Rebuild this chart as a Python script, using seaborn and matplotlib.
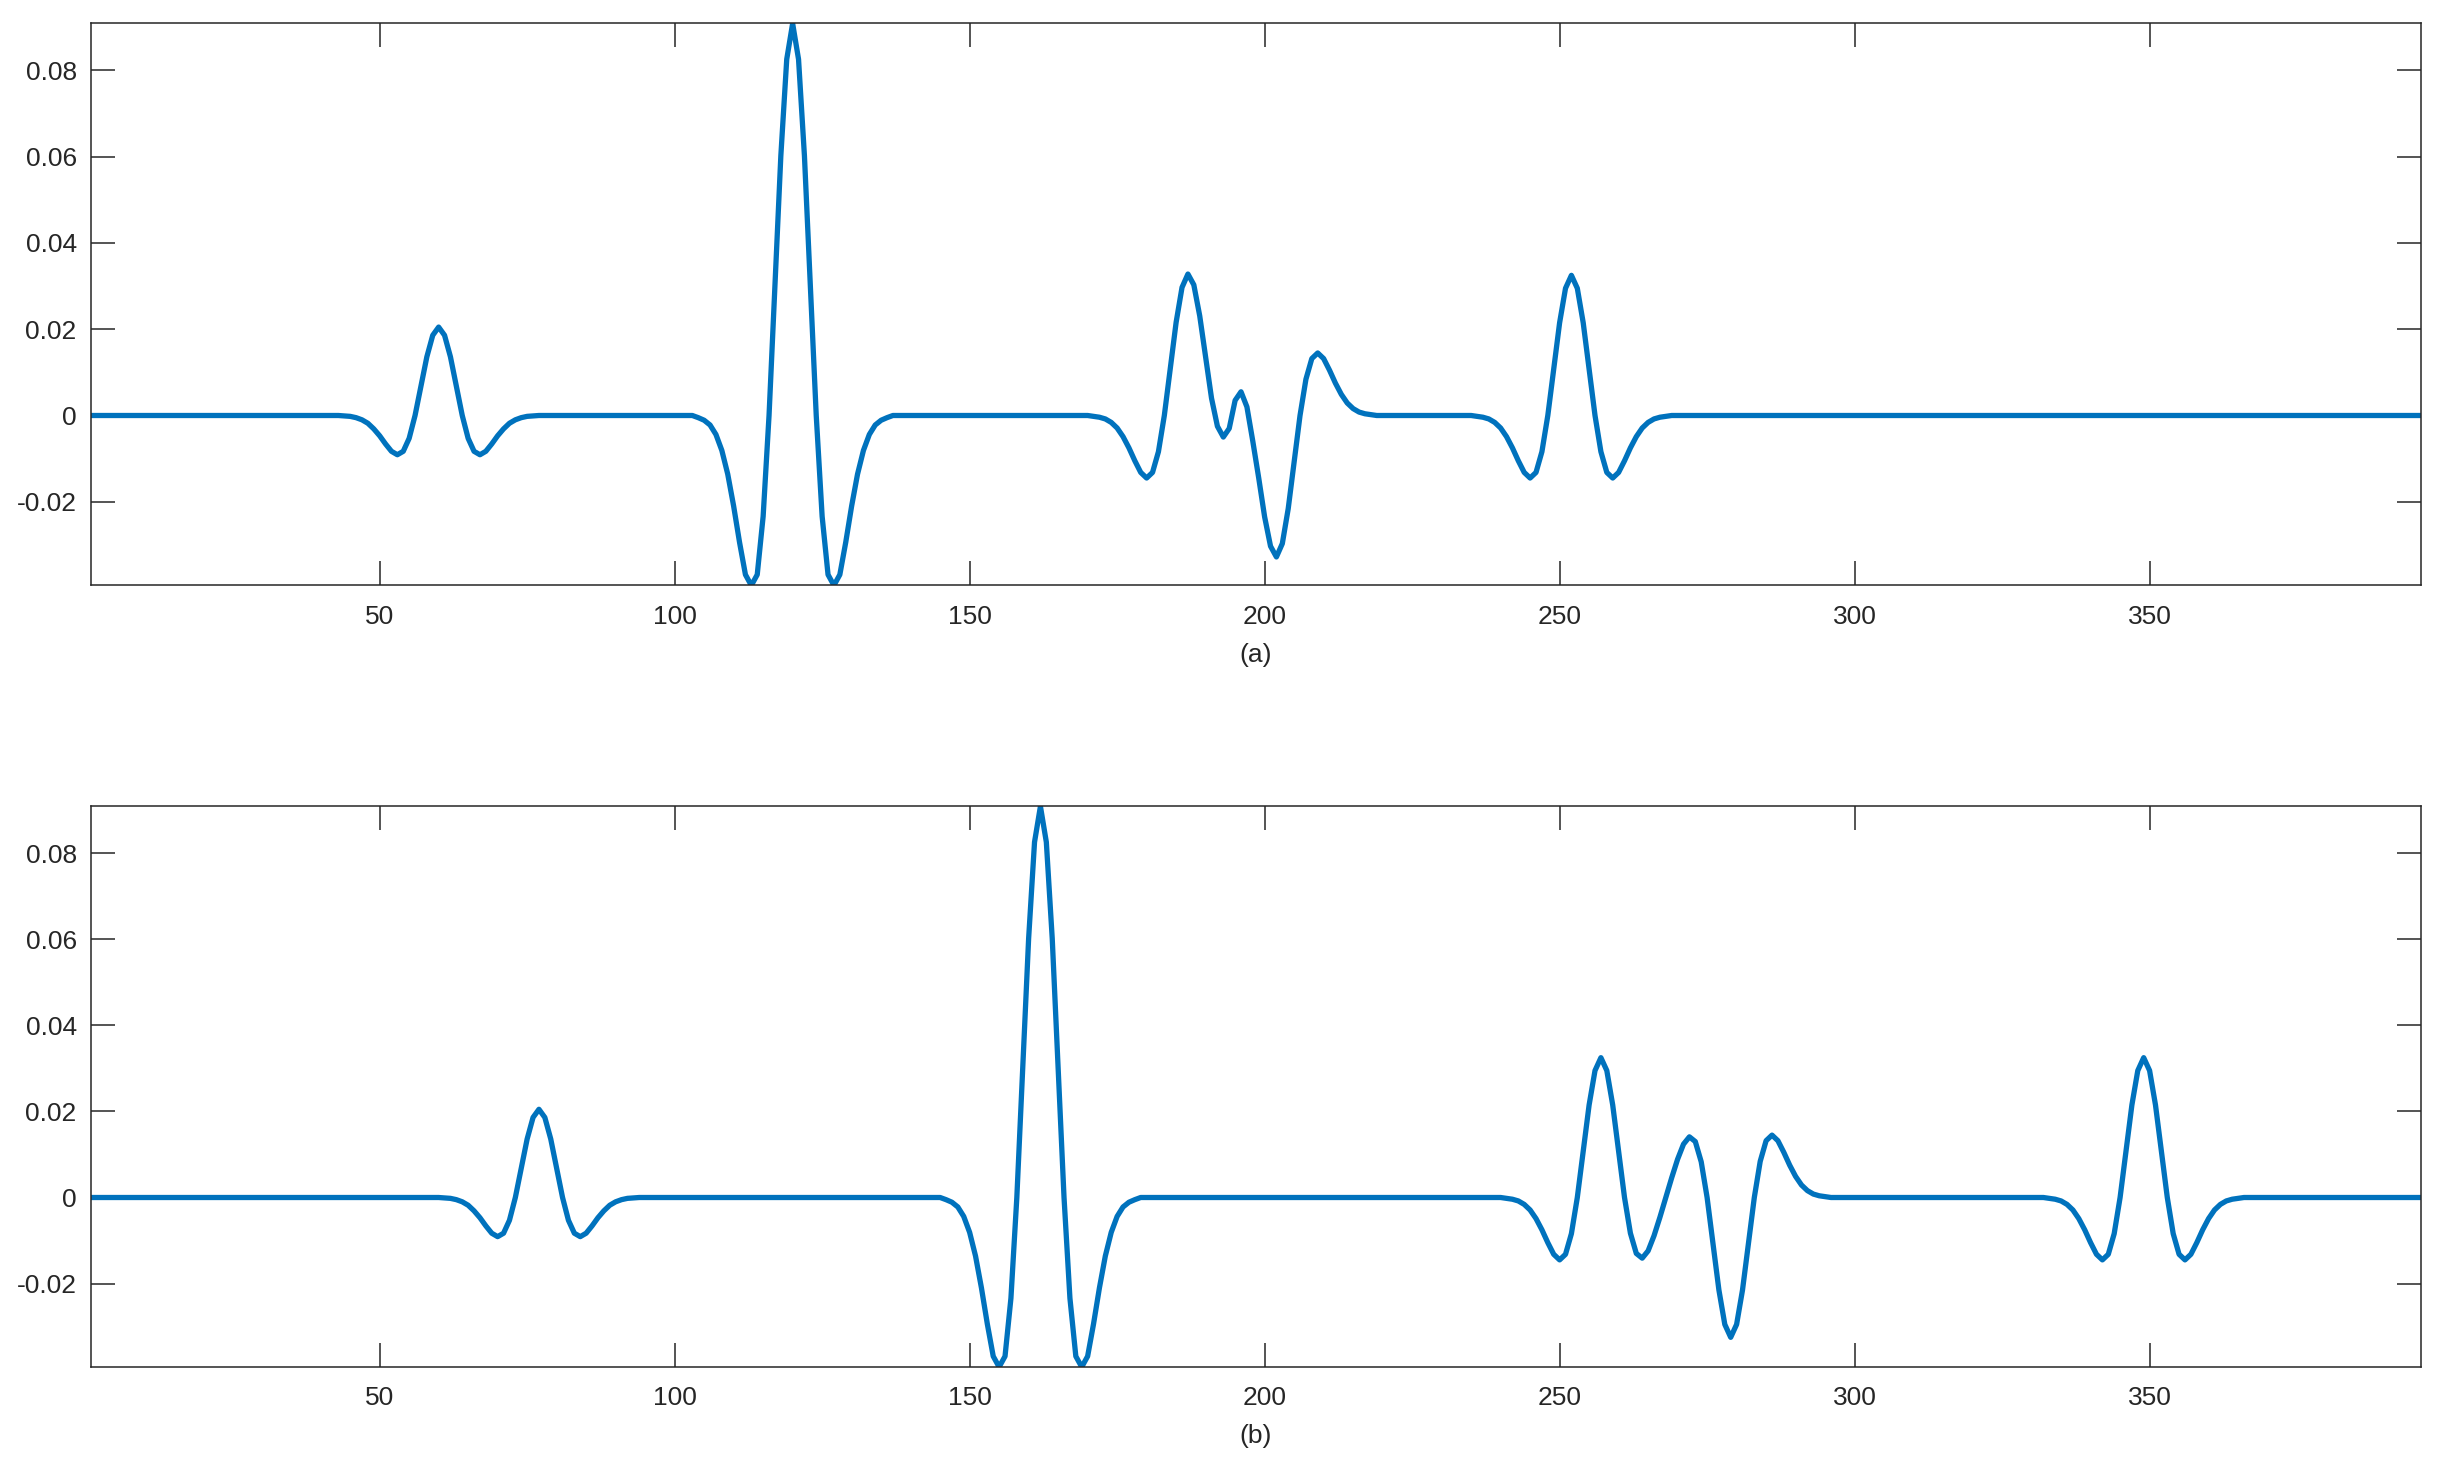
import numpy as np
import pandas as pd
import seaborn as sns
import matplotlib.pyplot as plt

# sample axis
N_SAMPLES = 396
sample_idx = np.arange(1, N_SAMPLES + 1)

# pulses (values per sample, zero elsewhere)
small_pulse = [-0.0001, -0.0002, -0.0005, -0.0010, -0.0018, -0.0031, -0.0047, -0.0066,
               -0.0083, -0.0091, -0.0083, -0.0053, 0.0, 0.0068, 0.0136, 0.0186, 0.0205,
               0.0186, 0.0136, 0.0068, 0.0, -0.0053, -0.0083, -0.0091, -0.0083, -0.0066,
               -0.0047, -0.0031, -0.0018, -0.0010, -0.0005, -0.0002, -0.0001]
big_pulse = [-0.0005, -0.0011, -0.0022, -0.0044, -0.0081, -0.0136, -0.0210, -0.0294,
             -0.0369, -0.0394, -0.0369, -0.0234, 0.0, 0.0300, 0.0602, 0.0826, 0.0909,
             0.0826, 0.0602, 0.0300, 0.0, -0.0234, -0.0369, -0.0394, -0.0369, -0.0294,
             -0.0210, -0.0136, -0.0081, -0.0044, -0.0022, -0.0011, -0.0005]
mid_pulse = [-0.0002, -0.0004, -0.0008, -0.0016, -0.0029, -0.0049, -0.0075, -0.0105,
             -0.0132, -0.0145, -0.0132, -0.0084, 0.0, 0.0107, 0.0215, 0.0295, 0.0325,
             0.0295, 0.0215, 0.0107, 0.0, -0.0084, -0.0132, -0.0145, -0.0132, -0.0105,
             -0.0075, -0.0049, -0.0029, -0.0016, -0.0008, -0.0004, -0.0002]
upper_pair = [-0.0002, -0.0004, -0.0008, -0.0016, -0.0029, -0.0049, -0.0075, -0.0105,
              -0.0132, -0.0145, -0.0132, -0.0084, 0.0, 0.0107, 0.0216, 0.0297, 0.0328,
              0.0303, 0.0231, 0.0136, 0.0040, -0.0025, -0.0050, -0.0030, 0.0035, 0.0055,
              0.0020, -0.0060, -0.0145, -0.0235, -0.0303, -0.0328, -0.0297, -0.0216,
              -0.0107, 0.0, 0.0084, 0.0132, 0.0145, 0.0132, 0.0105, 0.0075, 0.0049,
              0.0029, 0.0016, 0.0008, 0.0004, 0.0002]
lower_pair = [-0.0002, -0.0004, -0.0008, -0.0016, -0.0029, -0.0049, -0.0075, -0.0105,
              -0.0132, -0.0145, -0.0132, -0.0084, 0.0, 0.0107, 0.0215, 0.0295, 0.0325,
              0.0295, 0.0215, 0.0107, 0.0, -0.0083, -0.0130, -0.0141, -0.0124, -0.0089,
              -0.0046, 0.0, 0.0046, 0.0089, 0.0124, 0.0141, 0.0130, 0.0083, 0.0,
              -0.0107, -0.0215, -0.0295, -0.0325, -0.0295, -0.0215, -0.0107, 0.0,
              0.0084, 0.0132, 0.0145, 0.0132, 0.0105, 0.0075, 0.0049, 0.0029, 0.0016,
              0.0008, 0.0004, 0.0002]

# first sample index of each pulse
upper_segments = [small_pulse, big_pulse, upper_pair, mid_pulse]
upper_starts = [44, 104, 171, 236]
lower_segments = [small_pulse, big_pulse, lower_pair, mid_pulse]
lower_starts = [61, 146, 241, 333]

panel_labels = ["(a)", "(b)"]
x_ticks = [50, 100, 150, 200, 250, 300, 350]
y_ticks = [-0.02, 0, 0.02, 0.04, 0.06, 0.08]
y_tick_labels = ["-0.02", "0", "0.02", "0.04", "0.06", "0.08"]
y_limits = (-0.0394, 0.0909)

LINE_COLOR = "#0072BD"
AXIS_COLOR = "#262626"


def build_trace(segments, starts):
    y = np.zeros(N_SAMPLES)
    for seg, s in zip(segments, starts):
        y[s - 1:s - 1 + len(seg)] = seg
    return y


traces = [build_trace(upper_segments, upper_starts),
          build_trace(lower_segments, lower_starts)]

sns.set_theme(style="ticks")
plt.rcParams["font.family"] = ["Liberation Sans", "DejaVu Sans"]

fig = plt.figure(figsize=(24.41, 14.75), dpi=100)
ax_boxes = [[0.0371, 0.6031, 0.9547, 0.3810],
            [0.0371, 0.0732, 0.9547, 0.3801]]

for box, trace, label in zip(ax_boxes, traces, panel_labels):
    ax = fig.add_axes(box)
    df = pd.DataFrame({"sample": sample_idx, "value": trace})
    sns.lineplot(data=df, x="sample", y="value", ax=ax, color=LINE_COLOR,
                 linewidth=3.8, estimator=None, solid_joinstyle="round")
    ax.set_xlim(1, N_SAMPLES)
    ax.set_ylim(*y_limits)
    ax.set_xticks(x_ticks)
    ax.set_yticks(y_ticks)
    ax.set_yticklabels(y_tick_labels)
    ax.set_ylabel("")
    ax.set_xlabel(label, fontsize=19, color=AXIS_COLOR, labelpad=10)
    ax.tick_params(direction="in", length=17, width=1.1, top=True, right=True,
                   labelsize=19, colors=AXIS_COLOR, pad=10)
    ax.tick_params(axis="x", pad=14)
    for sp in ax.spines.values():
        sp.set_visible(True)
        sp.set_color(AXIS_COLOR)
        sp.set_linewidth(1.1)

fig.savefig("out.png", dpi=100)
